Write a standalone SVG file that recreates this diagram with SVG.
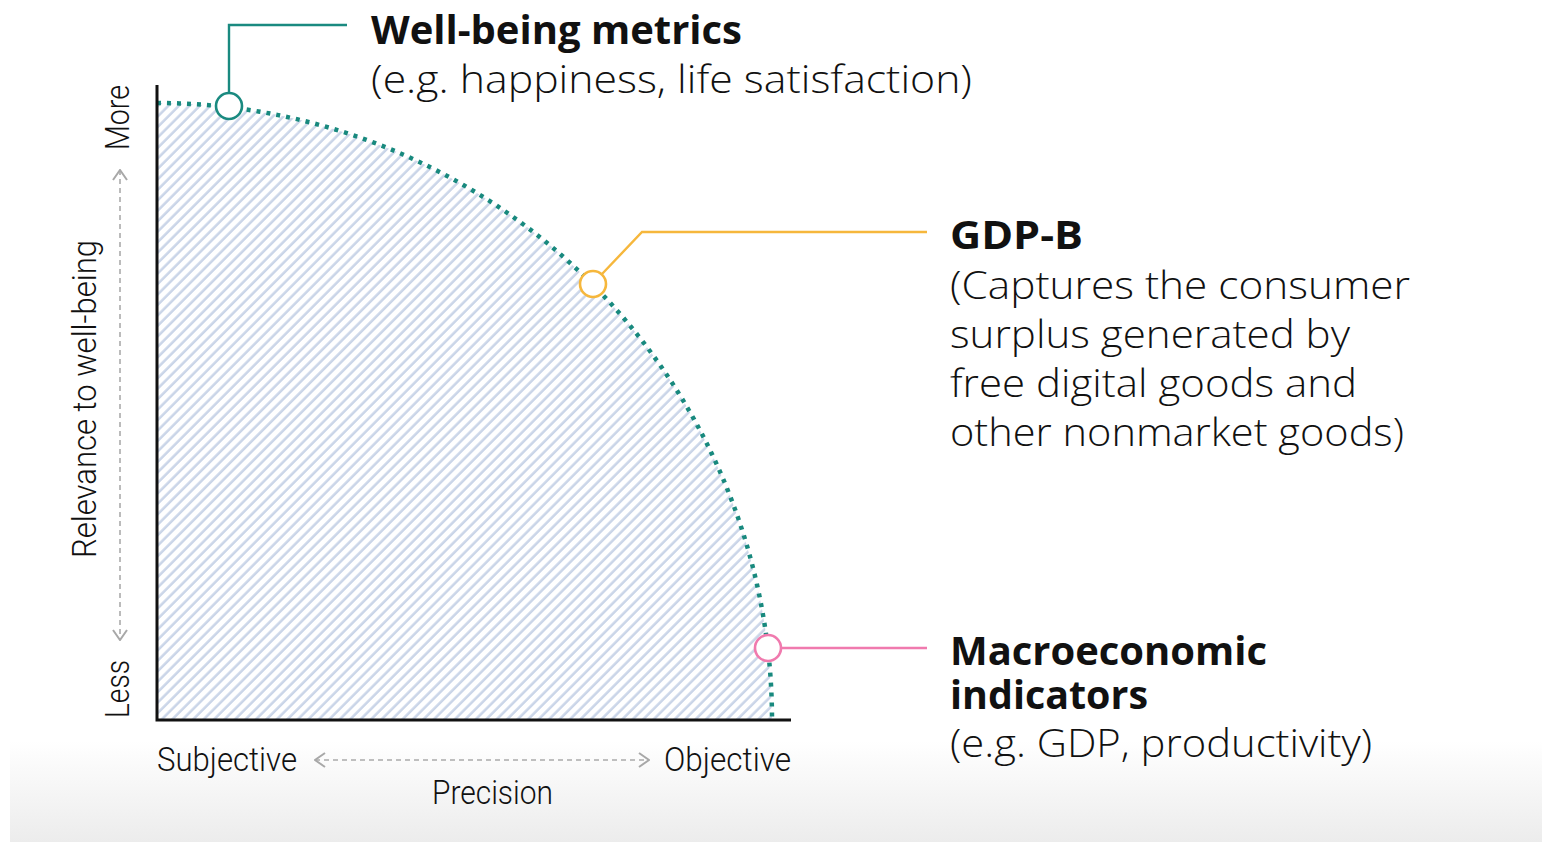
<svg xmlns="http://www.w3.org/2000/svg" width="1542" height="842" viewBox="0 0 1542 842">
  <defs>
    <linearGradient id="bg" x1="0" y1="0" x2="0" y2="1">
      <stop offset="0" stop-color="#ffffff"/>
      <stop offset="0.88" stop-color="#ffffff"/>
      <stop offset="1" stop-color="#ececec"/>
    </linearGradient>
    <pattern id="hatch" width="7.4" height="10" patternUnits="userSpaceOnUse" patternTransform="rotate(45)">
      <line x1="1.5" y1="0" x2="1.5" y2="10" stroke="#cad5e8" stroke-width="2.5"/>
    </pattern>
    <marker id="arr" viewBox="0 0 12 16" refX="11" refY="8" markerWidth="12" markerHeight="16" markerUnits="userSpaceOnUse" orient="auto-start-reverse">
      <path d="M1,1 L11,8 L1,15" fill="none" stroke="#a8a8a8" stroke-width="2"/>
    </marker>
    <style>
      .axis { stroke: #111; stroke-width: 3; fill: none; }
      .guide { stroke: #ababab; stroke-width: 1.6; stroke-dasharray: 5 4; fill: none; }
      .frontier { stroke: #18897e; stroke-width: 4.5; stroke-dasharray: 4 6; fill: none; }
      .dot { fill: #ffffff; stroke-width: 2.6; }
      .lead { fill: none; stroke-width: 2.4; }
      .title { font-family: "Open Sans", Lato, "Liberation Sans", sans-serif; font-weight: 700; font-size: 39px; fill: #111; }
      .desc { font-family: "Open Sans", Lato, "Liberation Sans", sans-serif; font-weight: 300; font-size: 39px; fill: #111; }
      .lbl { font-family: Roboto, "Liberation Sans", sans-serif; font-weight: 300; font-size: 33px; fill: #111; }
    </style>
  </defs>

  <rect x="0" y="0" width="1542" height="842" fill="#ffffff"/>
  <rect x="10" y="0" width="1532" height="842" fill="url(#bg)"/>

  <!-- shaded region under the frontier -->
  <path d="M157,103 A615,617 0 0 1 772,720 L157,720 Z" fill="url(#hatch)"/>

  <g id="connectors">
    <path class="frontier" d="M157,103 A615,617 0 0 1 772,720"/>
    <polyline class="lead" stroke="#1a8a80" points="229,93 229,25 347,25"/>
    <polyline class="lead" stroke="#f6b73c" points="602,274 642,232 927,232"/>
    <line class="lead" stroke="#f07aae" x1="781" y1="648" x2="927" y2="648"/>
  </g>

  <g id="axes">
    <polyline class="axis" points="157,85 157,720 791,720"/>
    <line class="guide" x1="120" y1="170" x2="120" y2="640" marker-start="url(#arr)" marker-end="url(#arr)"/>
    <line class="guide" x1="315" y1="760" x2="649" y2="760" marker-start="url(#arr)" marker-end="url(#arr)"/>
    <text class="lbl" x="157" y="771" textLength="140" lengthAdjust="spacingAndGlyphs">Subjective</text>
    <text class="lbl" x="664" y="771" textLength="127" lengthAdjust="spacingAndGlyphs">Objective</text>
    <text class="lbl" x="432" y="804" textLength="121" lengthAdjust="spacingAndGlyphs">Precision</text>
    <text class="lbl" transform="translate(96,558) rotate(-90)" textLength="318" lengthAdjust="spacingAndGlyphs">Relevance to well-being</text>
    <text class="lbl" transform="translate(129,150) rotate(-90)" textLength="65" lengthAdjust="spacingAndGlyphs">More</text>
    <text class="lbl" transform="translate(129,718) rotate(-90)" textLength="58" lengthAdjust="spacingAndGlyphs">Less</text>
  </g>

  <g id="well-being">
    <circle class="dot" stroke="#1a8a80" cx="229" cy="106" r="13"/>
    <text class="title" x="371" y="44" textLength="371" lengthAdjust="spacingAndGlyphs">Well-being metrics</text>
    <text class="desc" x="371" y="93" textLength="601" lengthAdjust="spacingAndGlyphs">(e.g. happiness, life satisfaction)</text>
  </g>

  <g id="gdp-b">
    <circle class="dot" stroke="#f6b73c" cx="593" cy="284" r="13"/>
    <text class="title" x="950" y="249" textLength="133" lengthAdjust="spacingAndGlyphs">GDP-B</text>
    <text class="desc" x="950" y="299" textLength="460" lengthAdjust="spacingAndGlyphs">(Captures the consumer</text>
    <text class="desc" x="950" y="348" textLength="400" lengthAdjust="spacingAndGlyphs">surplus generated by</text>
    <text class="desc" x="950" y="397" textLength="407" lengthAdjust="spacingAndGlyphs">free digital goods and</text>
    <text class="desc" x="950" y="446" textLength="454" lengthAdjust="spacingAndGlyphs">other nonmarket goods)</text>
  </g>

  <g id="macro">
    <circle class="dot" stroke="#f07aae" cx="768" cy="648" r="13"/>
    <text class="title" x="950" y="665" textLength="317" lengthAdjust="spacingAndGlyphs">Macroeconomic</text>
    <text class="title" x="950" y="709" textLength="198" lengthAdjust="spacingAndGlyphs">indicators</text>
    <text class="desc" x="950" y="757" textLength="422" lengthAdjust="spacingAndGlyphs">(e.g. GDP, productivity)</text>
  </g>
</svg>
